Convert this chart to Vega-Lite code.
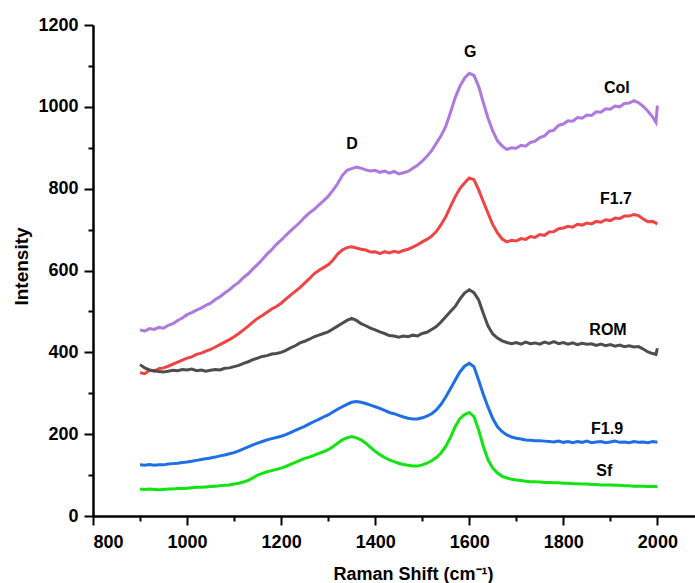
{
"$schema":"https://vega.github.io/schema/vega-lite/v6.json",
"width":602,"height":491,
"autosize":{"type":"none"},
"padding":{"left":93,"top":25,"right":0,"bottom":67},
"background":"white",
"config":{"view":{"stroke":null},"axis":{"grid":false,"domainColor":"black","tickColor":"black","labelColor":"black","titleColor":"black","labelFont":"Liberation Sans","titleFont":"Liberation Sans","labelFontWeight":"bold","titleFontWeight":"bold","labelFontSize":18,"titleFontSize":18,"domainWidth":2.5,"tickWidth":2}},
"datasets":{
"labels":[{"x":1351,"y":909,"label":"D"},{"x":1602,"y":1134,"label":"G"},{"x":1914,"y":1047,"label":"Col"},{"x":1912,"y":775,"label":"F1.7"},{"x":1895,"y":455,"label":"ROM"},{"x":1893,"y":213,"label":"F1.9"},{"x":1887,"y":110,"label":"Sf"}],
"spectra":[
{"x":900,"y":455,"s":"Col"},{"x":910,"y":452,"s":"Col"},{"x":920,"y":458,"s":"Col"},{"x":930,"y":456,"s":"Col"},{"x":940,"y":461,"s":"Col"},{"x":950,"y":459,"s":"Col"},{"x":960,"y":466,"s":"Col"},{"x":970,"y":470,"s":"Col"},{"x":980,"y":478,"s":"Col"},{"x":990,"y":484,"s":"Col"},{"x":1000,"y":492,"s":"Col"},{"x":1010,"y":497,"s":"Col"},{"x":1020,"y":503,"s":"Col"},{"x":1030,"y":508,"s":"Col"},{"x":1040,"y":515,"s":"Col"},{"x":1050,"y":520,"s":"Col"},{"x":1060,"y":529,"s":"Col"},{"x":1070,"y":536,"s":"Col"},{"x":1080,"y":545,"s":"Col"},{"x":1090,"y":553,"s":"Col"},{"x":1100,"y":563,"s":"Col"},{"x":1110,"y":571,"s":"Col"},{"x":1120,"y":583,"s":"Col"},{"x":1130,"y":592,"s":"Col"},{"x":1140,"y":604,"s":"Col"},{"x":1150,"y":615,"s":"Col"},{"x":1160,"y":627,"s":"Col"},{"x":1170,"y":640,"s":"Col"},{"x":1180,"y":651,"s":"Col"},{"x":1190,"y":664,"s":"Col"},{"x":1200,"y":674,"s":"Col"},{"x":1210,"y":686,"s":"Col"},{"x":1220,"y":697,"s":"Col"},{"x":1230,"y":707,"s":"Col"},{"x":1240,"y":718,"s":"Col"},{"x":1250,"y":730,"s":"Col"},{"x":1260,"y":741,"s":"Col"},{"x":1270,"y":749,"s":"Col"},{"x":1280,"y":760,"s":"Col"},{"x":1290,"y":770,"s":"Col"},{"x":1300,"y":781,"s":"Col"},{"x":1310,"y":796,"s":"Col"},{"x":1320,"y":812,"s":"Col"},{"x":1330,"y":832,"s":"Col"},{"x":1340,"y":845,"s":"Col"},{"x":1350,"y":849,"s":"Col"},{"x":1360,"y":853,"s":"Col"},{"x":1370,"y":850,"s":"Col"},{"x":1380,"y":846,"s":"Col"},{"x":1390,"y":843,"s":"Col"},{"x":1400,"y":845,"s":"Col"},{"x":1410,"y":840,"s":"Col"},{"x":1420,"y":843,"s":"Col"},{"x":1430,"y":838,"s":"Col"},{"x":1440,"y":842,"s":"Col"},{"x":1450,"y":836,"s":"Col"},{"x":1460,"y":839,"s":"Col"},{"x":1470,"y":842,"s":"Col"},{"x":1480,"y":850,"s":"Col"},{"x":1490,"y":857,"s":"Col"},{"x":1500,"y":867,"s":"Col"},{"x":1510,"y":879,"s":"Col"},{"x":1520,"y":893,"s":"Col"},{"x":1530,"y":911,"s":"Col"},{"x":1540,"y":929,"s":"Col"},{"x":1550,"y":952,"s":"Col"},{"x":1560,"y":986,"s":"Col"},{"x":1570,"y":1022,"s":"Col"},{"x":1580,"y":1050,"s":"Col"},{"x":1590,"y":1070,"s":"Col"},{"x":1600,"y":1082,"s":"Col"},{"x":1610,"y":1077,"s":"Col"},{"x":1620,"y":1050,"s":"Col"},{"x":1630,"y":1010,"s":"Col"},{"x":1640,"y":972,"s":"Col"},{"x":1650,"y":941,"s":"Col"},{"x":1660,"y":917,"s":"Col"},{"x":1670,"y":904,"s":"Col"},{"x":1680,"y":896,"s":"Col"},{"x":1690,"y":900,"s":"Col"},{"x":1700,"y":899,"s":"Col"},{"x":1710,"y":906,"s":"Col"},{"x":1720,"y":904,"s":"Col"},{"x":1730,"y":913,"s":"Col"},{"x":1740,"y":916,"s":"Col"},{"x":1750,"y":925,"s":"Col"},{"x":1760,"y":929,"s":"Col"},{"x":1770,"y":940,"s":"Col"},{"x":1780,"y":943,"s":"Col"},{"x":1790,"y":955,"s":"Col"},{"x":1800,"y":958,"s":"Col"},{"x":1810,"y":966,"s":"Col"},{"x":1820,"y":965,"s":"Col"},{"x":1830,"y":974,"s":"Col"},{"x":1840,"y":972,"s":"Col"},{"x":1850,"y":980,"s":"Col"},{"x":1860,"y":979,"s":"Col"},{"x":1870,"y":988,"s":"Col"},{"x":1880,"y":987,"s":"Col"},{"x":1890,"y":995,"s":"Col"},{"x":1900,"y":994,"s":"Col"},{"x":1910,"y":1002,"s":"Col"},{"x":1920,"y":1000,"s":"Col"},{"x":1930,"y":1008,"s":"Col"},{"x":1940,"y":1009,"s":"Col"},{"x":1950,"y":1015,"s":"Col"},{"x":1960,"y":1010,"s":"Col"},{"x":1970,"y":1001,"s":"Col"},{"x":1980,"y":989,"s":"Col"},{"x":1990,"y":975,"s":"Col"},{"x":1997,"y":962,"s":"Col"},{"x":2000,"y":1003,"s":"Col"},
{"x":900,"y":350,"s":"F1.7"},{"x":910,"y":348,"s":"F1.7"},{"x":920,"y":356,"s":"F1.7"},{"x":930,"y":354,"s":"F1.7"},{"x":940,"y":360,"s":"F1.7"},{"x":950,"y":362,"s":"F1.7"},{"x":960,"y":366,"s":"F1.7"},{"x":970,"y":371,"s":"F1.7"},{"x":980,"y":376,"s":"F1.7"},{"x":990,"y":381,"s":"F1.7"},{"x":1000,"y":386,"s":"F1.7"},{"x":1010,"y":389,"s":"F1.7"},{"x":1020,"y":395,"s":"F1.7"},{"x":1030,"y":398,"s":"F1.7"},{"x":1040,"y":403,"s":"F1.7"},{"x":1050,"y":407,"s":"F1.7"},{"x":1060,"y":413,"s":"F1.7"},{"x":1070,"y":419,"s":"F1.7"},{"x":1080,"y":425,"s":"F1.7"},{"x":1090,"y":431,"s":"F1.7"},{"x":1100,"y":438,"s":"F1.7"},{"x":1110,"y":446,"s":"F1.7"},{"x":1120,"y":455,"s":"F1.7"},{"x":1130,"y":464,"s":"F1.7"},{"x":1140,"y":474,"s":"F1.7"},{"x":1150,"y":483,"s":"F1.7"},{"x":1160,"y":490,"s":"F1.7"},{"x":1170,"y":498,"s":"F1.7"},{"x":1180,"y":506,"s":"F1.7"},{"x":1190,"y":512,"s":"F1.7"},{"x":1200,"y":520,"s":"F1.7"},{"x":1210,"y":530,"s":"F1.7"},{"x":1220,"y":540,"s":"F1.7"},{"x":1230,"y":549,"s":"F1.7"},{"x":1240,"y":558,"s":"F1.7"},{"x":1250,"y":569,"s":"F1.7"},{"x":1260,"y":580,"s":"F1.7"},{"x":1270,"y":592,"s":"F1.7"},{"x":1280,"y":600,"s":"F1.7"},{"x":1290,"y":607,"s":"F1.7"},{"x":1300,"y":614,"s":"F1.7"},{"x":1310,"y":625,"s":"F1.7"},{"x":1320,"y":640,"s":"F1.7"},{"x":1330,"y":650,"s":"F1.7"},{"x":1340,"y":656,"s":"F1.7"},{"x":1350,"y":658,"s":"F1.7"},{"x":1360,"y":655,"s":"F1.7"},{"x":1370,"y":652,"s":"F1.7"},{"x":1380,"y":650,"s":"F1.7"},{"x":1390,"y":645,"s":"F1.7"},{"x":1400,"y":646,"s":"F1.7"},{"x":1410,"y":641,"s":"F1.7"},{"x":1420,"y":646,"s":"F1.7"},{"x":1430,"y":643,"s":"F1.7"},{"x":1440,"y":647,"s":"F1.7"},{"x":1450,"y":644,"s":"F1.7"},{"x":1460,"y":649,"s":"F1.7"},{"x":1470,"y":652,"s":"F1.7"},{"x":1480,"y":657,"s":"F1.7"},{"x":1490,"y":663,"s":"F1.7"},{"x":1500,"y":670,"s":"F1.7"},{"x":1510,"y":676,"s":"F1.7"},{"x":1520,"y":684,"s":"F1.7"},{"x":1530,"y":695,"s":"F1.7"},{"x":1540,"y":712,"s":"F1.7"},{"x":1550,"y":731,"s":"F1.7"},{"x":1560,"y":756,"s":"F1.7"},{"x":1570,"y":780,"s":"F1.7"},{"x":1580,"y":800,"s":"F1.7"},{"x":1590,"y":814,"s":"F1.7"},{"x":1600,"y":826,"s":"F1.7"},{"x":1610,"y":822,"s":"F1.7"},{"x":1620,"y":797,"s":"F1.7"},{"x":1630,"y":768,"s":"F1.7"},{"x":1640,"y":740,"s":"F1.7"},{"x":1650,"y":712,"s":"F1.7"},{"x":1660,"y":692,"s":"F1.7"},{"x":1670,"y":677,"s":"F1.7"},{"x":1680,"y":670,"s":"F1.7"},{"x":1690,"y":674,"s":"F1.7"},{"x":1700,"y":672,"s":"F1.7"},{"x":1710,"y":678,"s":"F1.7"},{"x":1720,"y":676,"s":"F1.7"},{"x":1730,"y":683,"s":"F1.7"},{"x":1740,"y":681,"s":"F1.7"},{"x":1750,"y":688,"s":"F1.7"},{"x":1760,"y":686,"s":"F1.7"},{"x":1770,"y":694,"s":"F1.7"},{"x":1780,"y":695,"s":"F1.7"},{"x":1790,"y":702,"s":"F1.7"},{"x":1800,"y":704,"s":"F1.7"},{"x":1810,"y":708,"s":"F1.7"},{"x":1820,"y":706,"s":"F1.7"},{"x":1830,"y":713,"s":"F1.7"},{"x":1840,"y":711,"s":"F1.7"},{"x":1850,"y":716,"s":"F1.7"},{"x":1860,"y":714,"s":"F1.7"},{"x":1870,"y":720,"s":"F1.7"},{"x":1880,"y":718,"s":"F1.7"},{"x":1890,"y":724,"s":"F1.7"},{"x":1900,"y":722,"s":"F1.7"},{"x":1910,"y":728,"s":"F1.7"},{"x":1920,"y":727,"s":"F1.7"},{"x":1930,"y":733,"s":"F1.7"},{"x":1940,"y":733,"s":"F1.7"},{"x":1950,"y":737,"s":"F1.7"},{"x":1960,"y":734,"s":"F1.7"},{"x":1970,"y":726,"s":"F1.7"},{"x":1980,"y":719,"s":"F1.7"},{"x":1990,"y":720,"s":"F1.7"},{"x":2000,"y":714,"s":"F1.7"},
{"x":900,"y":370,"s":"ROM"},{"x":910,"y":362,"s":"ROM"},{"x":920,"y":357,"s":"ROM"},{"x":930,"y":355,"s":"ROM"},{"x":940,"y":353,"s":"ROM"},{"x":950,"y":352,"s":"ROM"},{"x":960,"y":354,"s":"ROM"},{"x":970,"y":356,"s":"ROM"},{"x":980,"y":355,"s":"ROM"},{"x":990,"y":358,"s":"ROM"},{"x":1000,"y":357,"s":"ROM"},{"x":1010,"y":359,"s":"ROM"},{"x":1020,"y":355,"s":"ROM"},{"x":1030,"y":357,"s":"ROM"},{"x":1040,"y":354,"s":"ROM"},{"x":1050,"y":356,"s":"ROM"},{"x":1060,"y":358,"s":"ROM"},{"x":1070,"y":357,"s":"ROM"},{"x":1080,"y":361,"s":"ROM"},{"x":1090,"y":362,"s":"ROM"},{"x":1100,"y":365,"s":"ROM"},{"x":1110,"y":368,"s":"ROM"},{"x":1120,"y":373,"s":"ROM"},{"x":1130,"y":377,"s":"ROM"},{"x":1140,"y":382,"s":"ROM"},{"x":1150,"y":386,"s":"ROM"},{"x":1160,"y":390,"s":"ROM"},{"x":1170,"y":392,"s":"ROM"},{"x":1180,"y":396,"s":"ROM"},{"x":1190,"y":397,"s":"ROM"},{"x":1200,"y":400,"s":"ROM"},{"x":1210,"y":405,"s":"ROM"},{"x":1220,"y":411,"s":"ROM"},{"x":1230,"y":416,"s":"ROM"},{"x":1240,"y":423,"s":"ROM"},{"x":1250,"y":427,"s":"ROM"},{"x":1260,"y":432,"s":"ROM"},{"x":1270,"y":438,"s":"ROM"},{"x":1280,"y":442,"s":"ROM"},{"x":1290,"y":446,"s":"ROM"},{"x":1300,"y":450,"s":"ROM"},{"x":1310,"y":457,"s":"ROM"},{"x":1320,"y":464,"s":"ROM"},{"x":1330,"y":471,"s":"ROM"},{"x":1340,"y":478,"s":"ROM"},{"x":1350,"y":483,"s":"ROM"},{"x":1360,"y":478,"s":"ROM"},{"x":1370,"y":470,"s":"ROM"},{"x":1380,"y":465,"s":"ROM"},{"x":1390,"y":459,"s":"ROM"},{"x":1400,"y":455,"s":"ROM"},{"x":1410,"y":450,"s":"ROM"},{"x":1420,"y":446,"s":"ROM"},{"x":1430,"y":441,"s":"ROM"},{"x":1440,"y":440,"s":"ROM"},{"x":1450,"y":437,"s":"ROM"},{"x":1460,"y":440,"s":"ROM"},{"x":1470,"y":438,"s":"ROM"},{"x":1480,"y":442,"s":"ROM"},{"x":1490,"y":440,"s":"ROM"},{"x":1500,"y":446,"s":"ROM"},{"x":1510,"y":449,"s":"ROM"},{"x":1520,"y":456,"s":"ROM"},{"x":1530,"y":463,"s":"ROM"},{"x":1540,"y":474,"s":"ROM"},{"x":1550,"y":487,"s":"ROM"},{"x":1560,"y":500,"s":"ROM"},{"x":1570,"y":512,"s":"ROM"},{"x":1580,"y":530,"s":"ROM"},{"x":1590,"y":545,"s":"ROM"},{"x":1600,"y":553,"s":"ROM"},{"x":1610,"y":546,"s":"ROM"},{"x":1620,"y":528,"s":"ROM"},{"x":1630,"y":495,"s":"ROM"},{"x":1640,"y":464,"s":"ROM"},{"x":1650,"y":445,"s":"ROM"},{"x":1660,"y":435,"s":"ROM"},{"x":1670,"y":428,"s":"ROM"},{"x":1680,"y":424,"s":"ROM"},{"x":1690,"y":421,"s":"ROM"},{"x":1700,"y":424,"s":"ROM"},{"x":1710,"y":420,"s":"ROM"},{"x":1720,"y":425,"s":"ROM"},{"x":1730,"y":421,"s":"ROM"},{"x":1740,"y":423,"s":"ROM"},{"x":1750,"y":420,"s":"ROM"},{"x":1760,"y":425,"s":"ROM"},{"x":1770,"y":422,"s":"ROM"},{"x":1780,"y":426,"s":"ROM"},{"x":1790,"y":421,"s":"ROM"},{"x":1800,"y":424,"s":"ROM"},{"x":1810,"y":420,"s":"ROM"},{"x":1820,"y":423,"s":"ROM"},{"x":1830,"y":419,"s":"ROM"},{"x":1840,"y":422,"s":"ROM"},{"x":1850,"y":420,"s":"ROM"},{"x":1860,"y":421,"s":"ROM"},{"x":1870,"y":417,"s":"ROM"},{"x":1880,"y":420,"s":"ROM"},{"x":1890,"y":416,"s":"ROM"},{"x":1900,"y":419,"s":"ROM"},{"x":1910,"y":415,"s":"ROM"},{"x":1920,"y":418,"s":"ROM"},{"x":1930,"y":414,"s":"ROM"},{"x":1940,"y":416,"s":"ROM"},{"x":1950,"y":413,"s":"ROM"},{"x":1960,"y":414,"s":"ROM"},{"x":1970,"y":408,"s":"ROM"},{"x":1980,"y":401,"s":"ROM"},{"x":1990,"y":397,"s":"ROM"},{"x":1997,"y":395,"s":"ROM"},{"x":2000,"y":410,"s":"ROM"},
{"x":900,"y":125,"s":"F1.9"},{"x":910,"y":124,"s":"F1.9"},{"x":920,"y":126,"s":"F1.9"},{"x":930,"y":124,"s":"F1.9"},{"x":940,"y":125,"s":"F1.9"},{"x":950,"y":125,"s":"F1.9"},{"x":960,"y":127,"s":"F1.9"},{"x":970,"y":128,"s":"F1.9"},{"x":980,"y":129,"s":"F1.9"},{"x":990,"y":131,"s":"F1.9"},{"x":1000,"y":132,"s":"F1.9"},{"x":1010,"y":134,"s":"F1.9"},{"x":1020,"y":136,"s":"F1.9"},{"x":1030,"y":138,"s":"F1.9"},{"x":1040,"y":140,"s":"F1.9"},{"x":1050,"y":142,"s":"F1.9"},{"x":1060,"y":144,"s":"F1.9"},{"x":1070,"y":147,"s":"F1.9"},{"x":1080,"y":149,"s":"F1.9"},{"x":1090,"y":152,"s":"F1.9"},{"x":1100,"y":155,"s":"F1.9"},{"x":1110,"y":159,"s":"F1.9"},{"x":1120,"y":164,"s":"F1.9"},{"x":1130,"y":169,"s":"F1.9"},{"x":1140,"y":174,"s":"F1.9"},{"x":1150,"y":178,"s":"F1.9"},{"x":1160,"y":182,"s":"F1.9"},{"x":1170,"y":186,"s":"F1.9"},{"x":1180,"y":189,"s":"F1.9"},{"x":1190,"y":192,"s":"F1.9"},{"x":1200,"y":195,"s":"F1.9"},{"x":1210,"y":199,"s":"F1.9"},{"x":1220,"y":204,"s":"F1.9"},{"x":1230,"y":209,"s":"F1.9"},{"x":1240,"y":214,"s":"F1.9"},{"x":1250,"y":219,"s":"F1.9"},{"x":1260,"y":225,"s":"F1.9"},{"x":1270,"y":231,"s":"F1.9"},{"x":1280,"y":236,"s":"F1.9"},{"x":1290,"y":242,"s":"F1.9"},{"x":1300,"y":247,"s":"F1.9"},{"x":1310,"y":254,"s":"F1.9"},{"x":1320,"y":261,"s":"F1.9"},{"x":1330,"y":267,"s":"F1.9"},{"x":1340,"y":273,"s":"F1.9"},{"x":1350,"y":278,"s":"F1.9"},{"x":1360,"y":280,"s":"F1.9"},{"x":1370,"y":278,"s":"F1.9"},{"x":1380,"y":275,"s":"F1.9"},{"x":1390,"y":271,"s":"F1.9"},{"x":1400,"y":267,"s":"F1.9"},{"x":1410,"y":263,"s":"F1.9"},{"x":1420,"y":258,"s":"F1.9"},{"x":1430,"y":253,"s":"F1.9"},{"x":1440,"y":250,"s":"F1.9"},{"x":1450,"y":246,"s":"F1.9"},{"x":1460,"y":242,"s":"F1.9"},{"x":1470,"y":239,"s":"F1.9"},{"x":1480,"y":237,"s":"F1.9"},{"x":1490,"y":237,"s":"F1.9"},{"x":1500,"y":240,"s":"F1.9"},{"x":1510,"y":244,"s":"F1.9"},{"x":1520,"y":250,"s":"F1.9"},{"x":1530,"y":259,"s":"F1.9"},{"x":1540,"y":273,"s":"F1.9"},{"x":1550,"y":291,"s":"F1.9"},{"x":1560,"y":311,"s":"F1.9"},{"x":1570,"y":332,"s":"F1.9"},{"x":1580,"y":352,"s":"F1.9"},{"x":1590,"y":366,"s":"F1.9"},{"x":1600,"y":373,"s":"F1.9"},{"x":1610,"y":365,"s":"F1.9"},{"x":1620,"y":332,"s":"F1.9"},{"x":1630,"y":297,"s":"F1.9"},{"x":1640,"y":266,"s":"F1.9"},{"x":1650,"y":238,"s":"F1.9"},{"x":1660,"y":218,"s":"F1.9"},{"x":1670,"y":206,"s":"F1.9"},{"x":1680,"y":198,"s":"F1.9"},{"x":1690,"y":193,"s":"F1.9"},{"x":1700,"y":190,"s":"F1.9"},{"x":1710,"y":188,"s":"F1.9"},{"x":1720,"y":186,"s":"F1.9"},{"x":1730,"y":185,"s":"F1.9"},{"x":1740,"y":184,"s":"F1.9"},{"x":1750,"y":184,"s":"F1.9"},{"x":1760,"y":183,"s":"F1.9"},{"x":1770,"y":182,"s":"F1.9"},{"x":1780,"y":181,"s":"F1.9"},{"x":1790,"y":183,"s":"F1.9"},{"x":1800,"y":180,"s":"F1.9"},{"x":1810,"y":182,"s":"F1.9"},{"x":1820,"y":179,"s":"F1.9"},{"x":1830,"y":182,"s":"F1.9"},{"x":1840,"y":180,"s":"F1.9"},{"x":1850,"y":183,"s":"F1.9"},{"x":1860,"y":179,"s":"F1.9"},{"x":1870,"y":181,"s":"F1.9"},{"x":1880,"y":182,"s":"F1.9"},{"x":1890,"y":179,"s":"F1.9"},{"x":1900,"y":181,"s":"F1.9"},{"x":1910,"y":183,"s":"F1.9"},{"x":1920,"y":180,"s":"F1.9"},{"x":1930,"y":181,"s":"F1.9"},{"x":1940,"y":179,"s":"F1.9"},{"x":1950,"y":182,"s":"F1.9"},{"x":1960,"y":180,"s":"F1.9"},{"x":1970,"y":181,"s":"F1.9"},{"x":1980,"y":179,"s":"F1.9"},{"x":1990,"y":182,"s":"F1.9"},{"x":2000,"y":180,"s":"F1.9"},
{"x":900,"y":66,"s":"Sf"},{"x":910,"y":65,"s":"Sf"},{"x":920,"y":66,"s":"Sf"},{"x":930,"y":65,"s":"Sf"},{"x":940,"y":64,"s":"Sf"},{"x":950,"y":65,"s":"Sf"},{"x":960,"y":66,"s":"Sf"},{"x":970,"y":66,"s":"Sf"},{"x":980,"y":67,"s":"Sf"},{"x":990,"y":67,"s":"Sf"},{"x":1000,"y":68,"s":"Sf"},{"x":1010,"y":69,"s":"Sf"},{"x":1020,"y":70,"s":"Sf"},{"x":1030,"y":70,"s":"Sf"},{"x":1040,"y":71,"s":"Sf"},{"x":1050,"y":72,"s":"Sf"},{"x":1060,"y":73,"s":"Sf"},{"x":1070,"y":74,"s":"Sf"},{"x":1080,"y":75,"s":"Sf"},{"x":1090,"y":76,"s":"Sf"},{"x":1100,"y":78,"s":"Sf"},{"x":1110,"y":80,"s":"Sf"},{"x":1120,"y":83,"s":"Sf"},{"x":1130,"y":87,"s":"Sf"},{"x":1140,"y":93,"s":"Sf"},{"x":1150,"y":100,"s":"Sf"},{"x":1160,"y":104,"s":"Sf"},{"x":1170,"y":108,"s":"Sf"},{"x":1180,"y":111,"s":"Sf"},{"x":1190,"y":114,"s":"Sf"},{"x":1200,"y":117,"s":"Sf"},{"x":1210,"y":121,"s":"Sf"},{"x":1220,"y":126,"s":"Sf"},{"x":1230,"y":131,"s":"Sf"},{"x":1240,"y":136,"s":"Sf"},{"x":1250,"y":141,"s":"Sf"},{"x":1260,"y":144,"s":"Sf"},{"x":1270,"y":148,"s":"Sf"},{"x":1280,"y":153,"s":"Sf"},{"x":1290,"y":157,"s":"Sf"},{"x":1300,"y":162,"s":"Sf"},{"x":1310,"y":169,"s":"Sf"},{"x":1320,"y":178,"s":"Sf"},{"x":1330,"y":186,"s":"Sf"},{"x":1340,"y":191,"s":"Sf"},{"x":1350,"y":194,"s":"Sf"},{"x":1360,"y":191,"s":"Sf"},{"x":1370,"y":186,"s":"Sf"},{"x":1380,"y":178,"s":"Sf"},{"x":1390,"y":168,"s":"Sf"},{"x":1400,"y":158,"s":"Sf"},{"x":1410,"y":150,"s":"Sf"},{"x":1420,"y":143,"s":"Sf"},{"x":1430,"y":137,"s":"Sf"},{"x":1440,"y":133,"s":"Sf"},{"x":1450,"y":129,"s":"Sf"},{"x":1460,"y":126,"s":"Sf"},{"x":1470,"y":124,"s":"Sf"},{"x":1480,"y":122,"s":"Sf"},{"x":1490,"y":122,"s":"Sf"},{"x":1500,"y":125,"s":"Sf"},{"x":1510,"y":129,"s":"Sf"},{"x":1520,"y":135,"s":"Sf"},{"x":1530,"y":143,"s":"Sf"},{"x":1540,"y":154,"s":"Sf"},{"x":1550,"y":170,"s":"Sf"},{"x":1560,"y":192,"s":"Sf"},{"x":1570,"y":218,"s":"Sf"},{"x":1580,"y":238,"s":"Sf"},{"x":1590,"y":248,"s":"Sf"},{"x":1600,"y":253,"s":"Sf"},{"x":1610,"y":243,"s":"Sf"},{"x":1620,"y":210,"s":"Sf"},{"x":1630,"y":170,"s":"Sf"},{"x":1640,"y":137,"s":"Sf"},{"x":1650,"y":117,"s":"Sf"},{"x":1660,"y":105,"s":"Sf"},{"x":1670,"y":97,"s":"Sf"},{"x":1680,"y":93,"s":"Sf"},{"x":1690,"y":90,"s":"Sf"},{"x":1700,"y":88,"s":"Sf"},{"x":1710,"y":87,"s":"Sf"},{"x":1720,"y":85,"s":"Sf"},{"x":1730,"y":84,"s":"Sf"},{"x":1740,"y":84,"s":"Sf"},{"x":1750,"y":83,"s":"Sf"},{"x":1760,"y":82,"s":"Sf"},{"x":1770,"y":82,"s":"Sf"},{"x":1780,"y":81,"s":"Sf"},{"x":1790,"y":81,"s":"Sf"},{"x":1800,"y":80,"s":"Sf"},{"x":1810,"y":80,"s":"Sf"},{"x":1820,"y":79,"s":"Sf"},{"x":1830,"y":79,"s":"Sf"},{"x":1840,"y":78,"s":"Sf"},{"x":1850,"y":78,"s":"Sf"},{"x":1860,"y":77,"s":"Sf"},{"x":1870,"y":77,"s":"Sf"},{"x":1880,"y":76,"s":"Sf"},{"x":1890,"y":76,"s":"Sf"},{"x":1900,"y":76,"s":"Sf"},{"x":1910,"y":75,"s":"Sf"},{"x":1920,"y":75,"s":"Sf"},{"x":1930,"y":74,"s":"Sf"},{"x":1940,"y":74,"s":"Sf"},{"x":1950,"y":73,"s":"Sf"},{"x":1960,"y":73,"s":"Sf"},{"x":1970,"y":73,"s":"Sf"},{"x":1980,"y":72,"s":"Sf"},{"x":1990,"y":72,"s":"Sf"},{"x":2000,"y":72,"s":"Sf"}
]},
"layer":[
{"data":{"name":"spectra"},
 "mark":{"type":"line","strokeWidth":3},
 "encoding":{
  "x":{"field":"x","type":"quantitative","scale":{"domain":[800,2080],"nice":false,"zero":false},
       "axis":{"orient":"bottom","values":[800,1000,1200,1400,1600,1800,2000],"format":"d","tickSize":9,"labelPadding":8,"title":"Raman Shift (cm⁻¹)","titleX":320,"titleY":63,"titleAlign":"center","titleBaseline":"alphabetic"}},
  "y":{"field":"y","type":"quantitative","scale":{"domain":[0,1200],"nice":false},
       "axis":{"orient":"left","values":[0,200,400,600,800,1000,1200],"format":"d","tickSize":9,"labelPadding":6,"title":"Intensity","titleX":-66,"titleY":241,"titleAngle":-90,"titleAlign":"center","titleBaseline":"alphabetic","titleFontSize":19}},
  "color":{"field":"s","type":"nominal","scale":{"domain":["Col","F1.7","ROM","F1.9","Sf"],"range":["#AE78DD","#EE4444","#4D4D4D","#1E6FE3","#11E411"]},"legend":null}
 }},
{"data":{"name":"labels"},
 "mark":{"type":"text","font":"Liberation Sans","fontWeight":"bold","fontSize":16,"color":"black","align":"center","baseline":"middle"},
 "encoding":{
  "x":{"field":"x","type":"quantitative","axis":{"orient":"bottom","values":[900,1100,1300,1500,1700,1900],"labels":false,"domain":false,"tickSize":5,"title":null}},
  "y":{"field":"y","type":"quantitative","axis":{"orient":"left","values":[100,300,500,700,900,1100],"labels":false,"domain":false,"tickSize":5,"title":null}},
  "text":{"field":"label"}
 }},
{"mark":{"type":"rule","color":"black","strokeWidth":2.5},
 "encoding":{"y":{"datum":1200,"axis":null}}}
],
"resolve":{"axis":{"x":"independent","y":"independent"}}
}
